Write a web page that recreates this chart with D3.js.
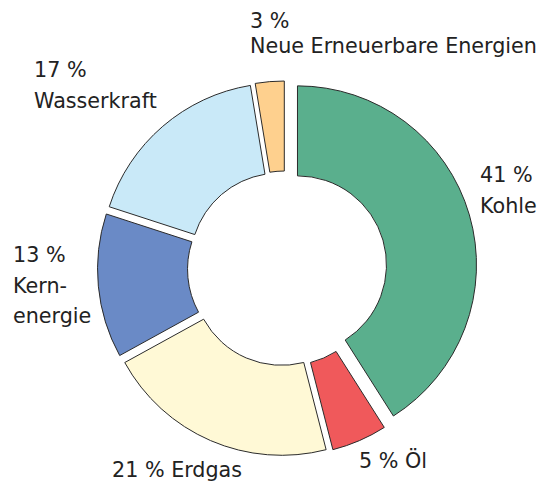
<!DOCTYPE html>
<html>
<head>
<meta charset="utf-8">
<script src="https://cdn.jsdelivr.net/npm/d3@7"></script>
<style>
  html, body { margin: 0; padding: 0; background: #fff; }
  svg { display: block; }
  text { font-family: "DejaVu Sans", sans-serif; font-size: 20.7px; fill: #222; }
</style>
</head>
<body>
<svg id="chart" width="541" height="481"></svg>
<script>
// ---- data ----
const categories = ["Kohle", "Öl", "Erdgas", "Kernenergie", "Wasserkraft", "Neue Erneuerbare Energien"];
const shares     = [41, 5, 21, 13, 17.4, 2.6];          // angular share of each slice (%)
const pctLabels  = ["41 %", "5 %", "21 %", "13 %", "17 %", "3 %"];
const nameLines  = [["Kohle"], ["Öl"], ["Erdgas"], ["Kern-", "energie"], ["Wasserkraft"], ["Neue Erneuerbare Energien"]];
const colors     = ["#5aaf8d", "#f0595b", "#fff9d6", "#6a8ac6", "#c9e9f8", "#fed08e"];

// ---- layout ----
const W = 541, H = 481;
const cx = 285, cy = 268.5;
const outerR = 179, innerR = 89;
const explodeDefault = 8.5, explodeKohle = 13;

const svg = d3.select("#chart");
const rows = categories.map((c, i) => ({ name: c, value: shares[i], i }));

const pie = d3.pie().sort(null).value(d => d.value).startAngle(0).endAngle(2 * Math.PI);
const arc = d3.arc().innerRadius(innerR).outerRadius(outerR);
const arcs = pie(rows);

const g = svg.append("g").attr("transform", `translate(${cx},${cy})`);
g.selectAll("path.slice")
  .data(arcs)
  .join("path")
  .attr("class", "slice")
  .attr("d", arc)
  .attr("fill", d => colors[d.data.i])
  .attr("stroke", "#2b2b2b")
  .attr("stroke-width", 1)
  .attr("transform", d => {
    const mid = (d.startAngle + d.endAngle) / 2;
    const e = d.data.i === 0 ? explodeKohle : explodeDefault;
    return `translate(${e * Math.sin(mid)},${-e * Math.cos(mid)})`;
  });

// ---- labels: [x, y of first baseline, line step, inline] ----
const labelLayout = [
  { x: 480, y: 182, step: 31, inline: false },
  { x: 359, y: 468, step: 0,  inline: true },
  { x: 112, y: 477, step: 0,  inline: true },
  { x: 13,  y: 262, step: 30.5, inline: false },
  { x: 34,  y: 77,  step: 31, inline: false },
  { x: 250, y: 28,  step: 25, inline: false }
];

labelLayout.forEach((L, i) => {
  const t = svg.append("text").attr("x", L.x).attr("y", L.y);
  if (L.inline) {
    t.text(pctLabels[i] + " " + nameLines[i].join(" "));
  } else {
    const lines = [pctLabels[i]].concat(nameLines[i]);
    lines.forEach((s, k) => {
      t.append("tspan").attr("x", L.x).attr("y", L.y + k * L.step).text(s);
    });
  }
});
</script>
</body>
</html>
